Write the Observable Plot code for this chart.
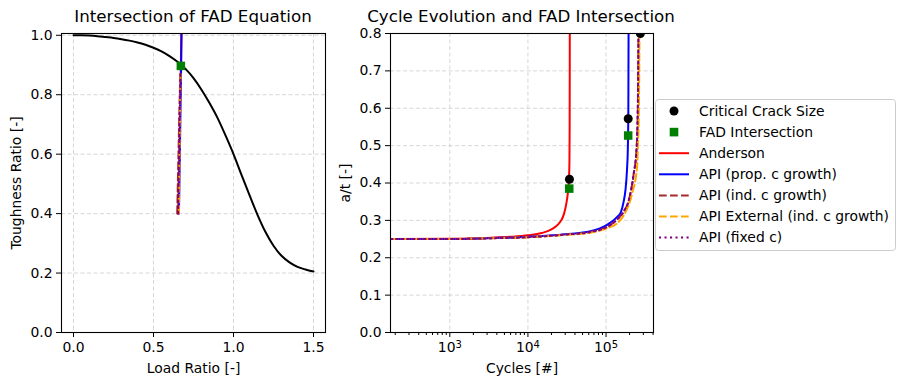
<!DOCTYPE html>
<html>
<head>
<meta charset="utf-8">
<script src="https://cdn.jsdelivr.net/npm/d3@7"></script>
<script src="https://cdn.jsdelivr.net/npm/@observablehq/plot@0.6"></script>
<style>
  body { margin: 0; background: white; }
  #wrap { position: relative; width: 904px; height: 390px; font-family: "DejaVu Sans", sans-serif; }
  .panel { position: absolute; top: 0; }
  .title { position: absolute; top: 6px; font-size: 16.7px; white-space: nowrap; transform: translateX(-50%); color: black; }
  #legend { position: absolute; left: 655px; top: 99px; }
</style>
</head>
<body>
<div id="wrap">
  <div class="title" style="left:193px">Intersection of FAD Equation</div>
  <div class="title" style="left:521px">Cycle Evolution and FAD Intersection</div>
  <div id="left" class="panel" style="left:0px"></div>
  <div id="right" class="panel" style="left:330px"></div>
  <div id="legend"></div>
</div>
<script>
// ---------- Left panel data: FAD curve ----------
const fadLr = [0, 0.05, 0.1, 0.15, 0.2, 0.25, 0.3, 0.35, 0.4, 0.45, 0.5, 0.55, 0.6, 0.65, 0.7, 0.75, 0.8, 0.85, 0.9, 0.95, 1.0, 1.05, 1.1, 1.15, 1.2, 1.25, 1.3, 1.35, 1.4, 1.45, 1.5];
const fadKr = [1.000, 1.000, 0.999, 0.997, 0.994, 0.991, 0.987, 0.982, 0.976, 0.968, 0.958, 0.946, 0.930, 0.911, 0.887, 0.856, 0.817, 0.772, 0.722, 0.663, 0.600, 0.530, 0.462, 0.396, 0.338, 0.292, 0.258, 0.236, 0.221, 0.212, 0.205];

// FAD paths (Load ratio, Toughness ratio)
const andersonPath = [[0.654, 0.40], [0.661, 0.60], [0.667, 0.80], [0.671, 0.90], [0.676, 1.10]];
const apiPropPath  = [[0.659, 0.40], [0.665, 0.60], [0.670, 0.80], [0.673, 0.90], [0.678, 1.10]];
const apiIndPath   = [[0.648, 0.40], [0.656, 0.60], [0.664, 0.80], [0.668, 0.87]];
const apiExtPath   = [[0.659, 0.40], [0.663, 0.60], [0.667, 0.80], [0.670, 0.87]];
const apiFixedPath = [[0.654, 0.40], [0.660, 0.60], [0.666, 0.80], [0.669, 0.87]];
const fadIntersectLeft = [[0.671, 0.897]];

// ---------- Right panel data: a/t vs cycles ----------
const andersonCurve = [[174, 0.250], [1000, 0.251], [3000, 0.253], [6000, 0.256], [10000, 0.260], [15000, 0.266], [20000, 0.276], [24000, 0.288], [27000, 0.302], [29000, 0.318], [31000, 0.345], [32500, 0.375], [33500, 0.410], [34000, 0.460], [34200, 0.550], [34300, 0.700], [34350, 0.850]];
const apiPropCurve = [[174, 0.250], [1000, 0.250], [3000, 0.252], [10000, 0.256], [30000, 0.263], [63000, 0.271], [103000, 0.288], [140000, 0.310], [155000, 0.322], [168000, 0.350], [177000, 0.380], [186000, 0.440], [190000, 0.490], [193000, 0.600], [194500, 0.850]];
const apiIndCurve  = [[174, 0.250], [1000, 0.250], [3000, 0.252], [10000, 0.255], [30000, 0.262], [63000, 0.269], [100000, 0.281], [138000, 0.302], [170000, 0.325], [195000, 0.353], [226000, 0.425], [245000, 0.487], [255000, 0.600], [261000, 0.850]];
const apiExtCurve  = [[174, 0.250], [1000, 0.250], [3000, 0.252], [10000, 0.255], [30000, 0.261], [63000, 0.267], [100000, 0.278], [140000, 0.293], [168000, 0.313], [215000, 0.371], [249000, 0.442], [256000, 0.500], [264000, 0.620], [269000, 0.850]];
const apiFixedCurve = [[174, 0.250], [1000, 0.250], [3000, 0.252], [10000, 0.255], [30000, 0.262], [63000, 0.269], [100000, 0.281], [138000, 0.302], [170000, 0.325], [195000, 0.353], [226000, 0.425], [245000, 0.487], [255000, 0.600], [261000, 0.850]];
const criticalPts = [[34000, 0.410], [192000, 0.572], [275000, 0.800]];
const fadIntersectRight = [[33800, 0.385], [192000, 0.527]];

// ---------- Tick labels ----------
const leftXTicks = [0, 0.5, 1.0, 1.5];
const leftYTicks = [0, 0.2, 0.4, 0.6, 0.8, 1.0];
const rightYTicks = [0, 0.1, 0.2, 0.3, 0.4, 0.5, 0.6, 0.7, 0.8];
const rightXTicks = [1e3, 1e4, 1e5];
const rightXTickExp = ["3", "4", "5"];
const legendLabels = ["Critical Crack Size", "FAD Intersection", "Anderson", "API (prop. c growth)", "API (ind. c growth)", "API External (ind. c growth)", "API (fixed c)"];

const rightXDomain = [174, 405000];
const minorTicks = [];
for (const dec of [100, 1000, 10000, 100000]) for (let k = 2; k <= 9; k++) {
  const v = k * dec;
  if (v >= rightXDomain[0] && v <= rightXDomain[1]) minorTicks.push(v);
}

const gridStyle = {stroke: "#b0b0b0", strokeOpacity: 0.5, strokeDasharray: "4,2.5", strokeWidth: 1};
const baseStyle = {fontFamily: "DejaVu Sans, sans-serif", fontSize: "13.9px", background: "transparent", overflow: "visible", color: "black"};
const fmt1 = d => d.toFixed(1);
const fmtPow = d => "10^" + rightXTickExp[rightXTicks.indexOf(d)];

const series = [
  {name: "Anderson", stroke: "red", dash: null, left: andersonPath, right: andersonCurve},
  {name: "API (prop. c growth)", stroke: "blue", dash: null, left: apiPropPath, right: apiPropCurve},
  {name: "API (ind. c growth)", stroke: "brown", dash: "7.7,3.3", left: apiIndPath, right: apiIndCurve},
  {name: "API External (ind. c growth)", stroke: "orange", dash: "7.7,3.3", left: apiExtPath, right: apiExtCurve},
  {name: "API (fixed c)", stroke: "purple", dash: "2.1,3.4", left: apiFixedPath, right: apiFixedCurve}
];

const fadCurve = fadLr.map((lr, i) => ({lr, kr: fadKr[i]}));

const leftPlot = Plot.plot({
  width: 340, height: 390,
  marginTop: 33, marginLeft: 61, marginRight: 15, marginBottom: 58,
  style: baseStyle,
  x: {domain: [-0.075, 1.575]},
  y: {domain: [0, 1.006]},
  marks: [
    Plot.gridX(leftXTicks, gridStyle),
    Plot.gridY(leftYTicks, gridStyle),
    Plot.axisX(leftXTicks, {tickFormat: fmt1, tickSize: 5, tickPadding: 5, label: "Load Ratio [-]", labelAnchor: "center", labelOffset: 40, labelArrow: "none"}),
    Plot.axisY(leftYTicks, {tickFormat: fmt1, tickSize: 5, tickPadding: 4, label: "Toughness Ratio [-]", labelAnchor: "center", labelOffset: 50, labelArrow: "none"}),
    Plot.line(fadCurve, {x: "lr", y: "kr", stroke: "black", strokeWidth: 2, curve: "monotone-x"}),
    ...series.map(s => Plot.line(s.left, {x: d => d[0], y: d => d[1], stroke: s.stroke, strokeWidth: 2, strokeDasharray: s.dash, clip: true})),
    Plot.dot(fadIntersectLeft, {x: d => d[0], y: d => d[1], symbol: "square", r: 4.8, fill: "green", stroke: "none"}),
    Plot.frame({stroke: "black", strokeWidth: 1.1})
  ]
});
document.getElementById("left").appendChild(leftPlot);

const rightPlot = Plot.plot({
  width: 330, height: 390,
  marginTop: 33, marginLeft: 60, marginRight: 7, marginBottom: 58,
  style: baseStyle,
  x: {type: "log", domain: rightXDomain},
  y: {domain: [0, 0.8]},
  marks: [
    Plot.gridX(rightXTicks, gridStyle),
    Plot.gridY(rightYTicks, gridStyle),
    Plot.axisX(minorTicks, {tickFormat: () => "", tickSize: 3, label: null}),
    Plot.axisX(rightXTicks, {tickFormat: fmtPow, tickSize: 5, tickPadding: 5, label: "Cycles [#]", labelAnchor: "center", labelOffset: 40, labelArrow: "none"}),
    Plot.axisY(rightYTicks, {tickFormat: fmt1, tickSize: 5, tickPadding: 4, label: "a/t [-]", labelAnchor: "center", labelOffset: 50, labelArrow: "none"}),
    ...series.map(s => Plot.line(s.right, {x: d => d[0], y: d => d[1], stroke: s.stroke, strokeWidth: 2, strokeDasharray: s.dash, curve: "monotone-x", clip: true})),
    Plot.dot(criticalPts, {x: d => d[0], y: d => d[1], r: 4.5, fill: "black", stroke: "none", clip: true}),
    Plot.dot(fadIntersectRight, {x: d => d[0], y: d => d[1], symbol: "square", r: 4.8, fill: "green", stroke: "none", clip: true}),
    Plot.frame({stroke: "black", strokeWidth: 1.1})
  ]
});
document.getElementById("right").appendChild(rightPlot);

// Render power-of-ten tick labels with a raised exponent (like mathtext)
d3.select(rightPlot).selectAll("text").each(function() {
  const t = this.textContent;
  const m = /^10\^(\d+)$/.exec(t);
  if (!m) return;
  const sel = d3.select(this);
  sel.text(null);
  sel.append("tspan").text("10");
  sel.append("tspan").attr("dy", "-0.45em").attr("font-size", "0.72em").text(m[1]);
});

// ---------- Legend ----------
const lg = d3.select("#legend").append("svg").attr("width", 242).attr("height", 153)
  .style("font-family", "DejaVu Sans, sans-serif").style("font-size", "13.9px");
lg.append("rect").attr("x", 0.5).attr("y", 0.5).attr("width", 240).attr("height", 151).attr("rx", 3)
  .attr("fill", "white").attr("fill-opacity", 0.8).attr("stroke", "#cccccc");
const rowY = i => 12 + i * 21.1;
lg.append("circle").attr("cx", 19).attr("cy", rowY(0)).attr("r", 4.5).attr("fill", "black");
lg.append("rect").attr("x", 14.7).attr("y", rowY(1) - 4.3).attr("width", 8.6).attr("height", 8.6).attr("fill", "green");
series.forEach((s, i) => {
  lg.append("line").attr("x1", 4).attr("x2", 34).attr("y1", rowY(i + 2)).attr("y2", rowY(i + 2))
    .attr("stroke", s.stroke).attr("stroke-width", 2).attr("stroke-dasharray", s.dash);
});
legendLabels.forEach((t, i) => {
  lg.append("text").attr("x", 44).attr("y", rowY(i)).attr("dy", "0.35em").text(t);
});
</script>
</body>
</html>
